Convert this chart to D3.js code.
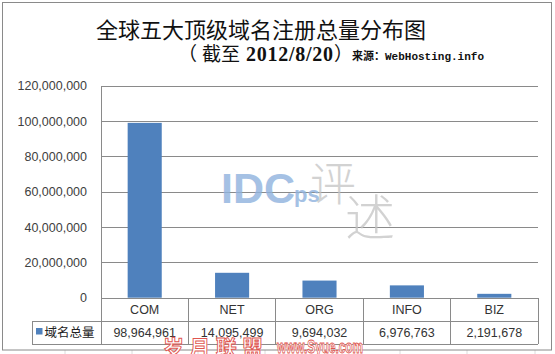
<!DOCTYPE html>
<html><head><meta charset="utf-8">
<script src="https://cdn.jsdelivr.net/npm/d3@7/dist/d3.min.js"></script>
<style>
html,body{margin:0;padding:0;background:#fff;}
svg{display:block;}
</style></head>
<body>
<svg id="c" width="555" height="354"></svg>
<script>
const categories = ["COM", "NET", "ORG", "INFO", "BIZ"];
const values = [98964961, 14095499, 9694032, 6976763, 2191678];
const seriesName = "域名总量";
const yTicks = [0, 20000000, 40000000, 60000000, 80000000, 100000000, 120000000];
const titleText = "全球五大顶级域名注册总量分布图";
const subtitleParts = ["（", "截至", "2012/8/20", "）"];
const sourceText = "来源：WebHosting.info";

(function () {
const svg = d3.select("#c");
const W = 555, H = 354;
const gridCol = "#8a8a8a";
const barCol = "#4f81bd";
const sansCJK = "Arial, 'Liberation Sans', 'Noto Sans CJK SC', sans-serif";
const cjk = "'Noto Sans CJK SC', sans-serif";

// faint spreadsheet cell lines outside the chart frame
const cellX = [65, 132, 198, 265, 333, 400, 467, 535];
svg.selectAll("line.cell").data(cellX).enter().append("line")
  .attr("x1", d => d).attr("x2", d => d).attr("y1", 350).attr("y2", H)
  .attr("stroke", "#dcdcdc");

// chart frame
svg.append("rect").attr("x", 2.5).attr("y", 2.5).attr("width", 549).attr("height", 347.5)
  .attr("fill", "#fff").attr("stroke", gridCol).attr("stroke-width", 1);

// titles
svg.append("text").attr("x", 261).attr("y", 38).attr("text-anchor", "middle")
  .attr("font-family", cjk).attr("font-size", 22).attr("font-weight", 400)
  .attr("fill", "#111").text(titleText);
const sub = svg.append("text").attr("y", 61).attr("fill", "#111").attr("font-size", 19);
sub.append("tspan").attr("x", 178).attr("font-family", cjk).text(subtitleParts[0]);
sub.append("tspan").attr("x", 202).attr("font-family", cjk).text(subtitleParts[1]);
sub.append("tspan").attr("x", 246).attr("font-family", "'Liberation Serif', serif")
  .attr("font-size", 20).attr("font-weight", "bold").attr("textLength", 87).attr("lengthAdjust", "spacing")
  .text(subtitleParts[2]);
sub.append("tspan").attr("x", 334).attr("font-family", cjk).text(subtitleParts[3]);
svg.append("text").attr("x", 352).attr("y", 60)
  .attr("font-family", "'Liberation Mono', 'Noto Sans CJK SC', monospace")
  .attr("font-size", 11).attr("font-weight", "bold").attr("fill", "#111").text(sourceText);

// scales
const pL = 101, pR = 538, pT = 85.7, pB = 297.7;
const x = d3.scaleBand().domain(categories).range([pL, pR]).padding(0);
const y = d3.scaleLinear().domain([0, 120000000]).range([pB, pT]);
const barW = x.bandwidth() * 0.39;

// gridlines
const grid = svg.append("g").attr("transform", `translate(${pL},0)`)
  .call(d3.axisLeft(y).tickValues(yTicks).tickSize(-(pR - pL)).tickFormat(""));
grid.select(".domain").remove();
grid.selectAll("line").attr("stroke", gridCol).attr("stroke-width", 1)
  .attr("shape-rendering", "crispEdges");

// y labels
const yax = svg.append("g").attr("transform", `translate(87,0)`)
  .call(d3.axisLeft(y).tickValues(yTicks).tickSize(0).tickPadding(0).tickFormat(d3.format(",")));
yax.select(".domain").remove();
yax.selectAll("text").attr("font-family", sansCJK).attr("font-size", 12.5).attr("fill", "#404040");

// watermarks (IDCps 评述)
svg.append("text").attr("x", 221).attr("y", 203).attr("font-family", "'Liberation Sans', Arial, sans-serif")
  .attr("font-size", 43).attr("font-weight", "bold").attr("fill", "#8fb2de").attr("opacity", 0.8).text("IDC");
svg.append("text").attr("x", 294).attr("y", 202).attr("font-family", "'Liberation Sans', Arial, sans-serif")
  .attr("font-size", 22).attr("font-weight", "bold").attr("fill", "#8fb2de").attr("opacity", 0.8).text("ps");
svg.append("text").attr("x", 310).attr("y", 200).attr("font-family", cjk).attr("font-weight", 300)
  .attr("font-size", 46).attr("fill", "#c4c4c4").attr("opacity", 0.75).text("评");
svg.append("text").attr("x", 345).attr("y", 236).attr("font-family", cjk).attr("font-weight", 300)
  .attr("font-size", 50).attr("fill", "#c4c4c4").attr("opacity", 0.75).text("述");

// bars
svg.selectAll("rect.bar").data(values).enter().append("rect").attr("class", "bar")
  .attr("x", (d, i) => x(categories[i]) + (x.bandwidth() - barW) / 2)
  .attr("width", barW)
  .attr("y", d => y(d)).attr("height", d => y(0) - y(d))
  .attr("fill", barCol);

// plot borders
svg.append("line").attr("x1", pL).attr("x2", pL).attr("y1", pT).attr("y2", 344)
  .attr("stroke", gridCol).attr("shape-rendering", "crispEdges");
svg.append("line").attr("x1", pR).attr("x2", pR).attr("y1", pB).attr("y2", 344)
  .attr("stroke", gridCol).attr("shape-rendering", "crispEdges");

// data table
const row1 = pB, row2 = 321, row3 = 344, tLeft = 32;
svg.append("line").attr("x1", tLeft).attr("x2", pR).attr("y1", row2).attr("y2", row2)
  .attr("stroke", gridCol).attr("shape-rendering", "crispEdges");
svg.append("line").attr("x1", tLeft).attr("x2", pR).attr("y1", row3).attr("y2", row3)
  .attr("stroke", gridCol).attr("shape-rendering", "crispEdges");
svg.append("line").attr("x1", tLeft).attr("x2", tLeft).attr("y1", row2).attr("y2", row3)
  .attr("stroke", gridCol).attr("shape-rendering", "crispEdges");
svg.selectAll("line.div").data(categories.slice(1)).enter().append("line")
  .attr("x1", d => x(d)).attr("x2", d => x(d)).attr("y1", row1).attr("y2", row3)
  .attr("stroke", gridCol).attr("shape-rendering", "crispEdges");

svg.selectAll("text.cat").data(categories).enter().append("text")
  .attr("x", d => x(d) + x.bandwidth() / 2).attr("y", 314).attr("text-anchor", "middle")
  .attr("font-family", sansCJK).attr("font-size", 12.5).attr("fill", "#333").text(d => d);
const fmt = d3.format(",");
svg.selectAll("text.val").data(values).enter().append("text")
  .attr("x", (d, i) => x(categories[i]) + x.bandwidth() / 2).attr("y", 337).attr("text-anchor", "middle")
  .attr("font-family", sansCJK).attr("font-size", 12.5).attr("fill", "#333").text(d => fmt(d));

// legend key
svg.append("rect").attr("x", 36).attr("y", 328).attr("width", 6.5).attr("height", 6.5).attr("fill", barCol);
svg.append("text").attr("x", 44.5).attr("y", 337).attr("font-family", cjk)
  .attr("font-size", 12.5).attr("fill", "#222").text(seriesName);

// red watermark
const wm = svg.append("g").attr("fill", "#fff").attr("stroke", "#e0554f").attr("stroke-width", 0.9);
wm.append("text").attr("x", 163).attr("y", 355).attr("font-family", cjk)
  .attr("font-size", 21).attr("font-weight", "bold")
  .attr("textLength", 100).attr("lengthAdjust", "spacing").text("岁月联盟");
wm.append("text").attr("x", 277).attr("y", 353).attr("font-family", "'Liberation Sans', sans-serif")
  .attr("font-size", 18).attr("font-weight", "bold")
  .attr("textLength", 86).attr("lengthAdjust", "spacingAndGlyphs").text("www.Syue.com");
})();
</script>
</body></html>
